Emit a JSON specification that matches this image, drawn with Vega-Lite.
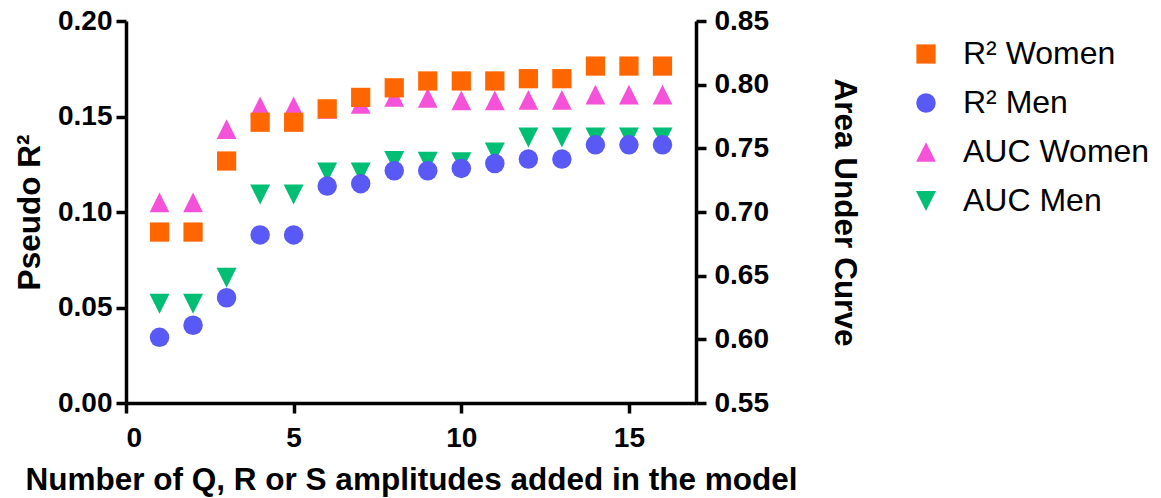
{
  "$schema": "https://vega.github.io/schema/vega-lite/v6.json",
  "width": 570,
  "height": 382,
  "autosize": "none",
  "padding": {"left": 126, "top": 21, "right": 465, "bottom": 95},
  "background": "white",
  "config": {
    "view": {"stroke": null},
    "font": "Liberation Sans",
    "axis": {
      "grid": false,
      "domainColor": "black",
      "domainWidth": 3.5,
      "tickColor": "black",
      "tickWidth": 3.5,
      "tickSize": 10,
      "labelFont": "Liberation Sans",
      "labelFontWeight": "bold",
      "labelFontSize": 28,
      "labelColor": "black",
      "titleFont": "Liberation Sans",
      "titleFontWeight": "bold",
      "titleFontSize": 31.5,
      "titleColor": "black"
    }
  },
  "datasets": {
    "r2": [
      {"x": 1, "series": "R² Women", "value": 0.0895},
      {"x": 2, "series": "R² Women", "value": 0.0895},
      {"x": 3, "series": "R² Women", "value": 0.1267},
      {"x": 4, "series": "R² Women", "value": 0.147},
      {"x": 5, "series": "R² Women", "value": 0.147},
      {"x": 6, "series": "R² Women", "value": 0.154},
      {"x": 7, "series": "R² Women", "value": 0.160},
      {"x": 8, "series": "R² Women", "value": 0.165},
      {"x": 9, "series": "R² Women", "value": 0.1686},
      {"x": 10, "series": "R² Women", "value": 0.1686},
      {"x": 11, "series": "R² Women", "value": 0.1686},
      {"x": 12, "series": "R² Women", "value": 0.1698},
      {"x": 13, "series": "R² Women", "value": 0.1698},
      {"x": 14, "series": "R² Women", "value": 0.1764},
      {"x": 15, "series": "R² Women", "value": 0.1764},
      {"x": 16, "series": "R² Women", "value": 0.1764},
      {"x": 1, "series": "R² Men", "value": 0.0344},
      {"x": 2, "series": "R² Men", "value": 0.0407},
      {"x": 3, "series": "R² Men", "value": 0.0551},
      {"x": 4, "series": "R² Men", "value": 0.088},
      {"x": 5, "series": "R² Men", "value": 0.088},
      {"x": 6, "series": "R² Men", "value": 0.1136},
      {"x": 7, "series": "R² Men", "value": 0.1148},
      {"x": 8, "series": "R² Men", "value": 0.1216},
      {"x": 9, "series": "R² Men", "value": 0.1216},
      {"x": 10, "series": "R² Men", "value": 0.1228},
      {"x": 11, "series": "R² Men", "value": 0.1254},
      {"x": 12, "series": "R² Men", "value": 0.1277},
      {"x": 13, "series": "R² Men", "value": 0.1277},
      {"x": 14, "series": "R² Men", "value": 0.1352},
      {"x": 15, "series": "R² Men", "value": 0.1352},
      {"x": 16, "series": "R² Men", "value": 0.1352}
    ],
    "auc": [
      {"x": 1, "series": "AUC Women", "value": 0.7075},
      {"x": 2, "series": "AUC Women", "value": 0.7075},
      {"x": 3, "series": "AUC Women", "value": 0.765},
      {"x": 4, "series": "AUC Women", "value": 0.783},
      {"x": 5, "series": "AUC Women", "value": 0.783},
      {"x": 6, "series": "AUC Women", "value": 0.781},
      {"x": 7, "series": "AUC Women", "value": 0.785},
      {"x": 8, "series": "AUC Women", "value": 0.7905},
      {"x": 9, "series": "AUC Women", "value": 0.7897},
      {"x": 10, "series": "AUC Women", "value": 0.7877},
      {"x": 11, "series": "AUC Women", "value": 0.7877},
      {"x": 12, "series": "AUC Women", "value": 0.788},
      {"x": 13, "series": "AUC Women", "value": 0.788},
      {"x": 14, "series": "AUC Women", "value": 0.7921},
      {"x": 15, "series": "AUC Women", "value": 0.7921},
      {"x": 16, "series": "AUC Women", "value": 0.7921},
      {"x": 1, "series": "AUC Men", "value": 0.6279},
      {"x": 2, "series": "AUC Men", "value": 0.6279},
      {"x": 3, "series": "AUC Men", "value": 0.6484},
      {"x": 4, "series": "AUC Men", "value": 0.7137},
      {"x": 5, "series": "AUC Men", "value": 0.7137},
      {"x": 6, "series": "AUC Men", "value": 0.731},
      {"x": 7, "series": "AUC Men", "value": 0.731},
      {"x": 8, "series": "AUC Men", "value": 0.740},
      {"x": 9, "series": "AUC Men", "value": 0.7394},
      {"x": 10, "series": "AUC Men", "value": 0.739},
      {"x": 11, "series": "AUC Men", "value": 0.7467},
      {"x": 12, "series": "AUC Men", "value": 0.7585},
      {"x": 13, "series": "AUC Men", "value": 0.7585},
      {"x": 14, "series": "AUC Men", "value": 0.7585},
      {"x": 15, "series": "AUC Men", "value": 0.7585},
      {"x": 16, "series": "AUC Men", "value": 0.7585}
    ]
  },
  "encoding": {
    "x": {
      "field": "x",
      "type": "quantitative",
      "scale": {"domain": [0, 17], "nice": false, "zero": false},
      "axis": {
        "values": [0, 5, 10, 15],
        "title": "Number of Q, R or S amplitudes added in the model",
        "labelPadding": 11,
        "titleX": 285,
        "titleY": 77,
        "titleBaseline": "middle",
        "titleAlign": "center"
      }
    },
    "color": {
      "field": "series",
      "type": "nominal",
      "scale": {
        "domain": ["R² Women", "R² Men", "AUC Women", "AUC Men"],
        "range": ["#FF6600", "#5959F5", "#F652D9", "#00BF74"]
      },
      "legend": {
        "title": null,
        "orient": "none",
        "legendX": 784,
        "legendY": 17,
        "padding": 0,
        "symbolSize": 420,
        "symbolStrokeWidth": 0,
        "symbolOpacity": 1,
        "labelFont": "Liberation Sans",
        "labelFontSize": 32,
        "labelColor": "black",
        "labelOffset": 21,
        "rowPadding": 17,
        "labelLimit": 400
      }
    },
    "shape": {
      "field": "series",
      "type": "nominal",
      "scale": {
        "domain": ["R² Women", "R² Men", "AUC Women", "AUC Men"],
        "range": ["square", "circle", "M0,-1L1,1L-1,1Z", "M0,1L1,-1L-1,-1Z"]
      }
    },
    "size": {
      "field": "series",
      "type": "nominal",
      "scale": {
        "domain": ["R² Women", "R² Men", "AUC Women", "AUC Men"],
        "range": [370, 400, 480, 480]
      },
      "legend": null
    }
  },
  "layer": [
    {
      "data": {"name": "auc"},
      "mark": {"type": "point", "filled": true, "opacity": 1, "strokeWidth": 0},
      "encoding": {
        "y": {
          "field": "value",
          "type": "quantitative",
          "scale": {"domain": [0.55, 0.85], "nice": false, "zero": false},
          "axis": {
            "orient": "right",
            "values": [0.55, 0.6, 0.65, 0.7, 0.75, 0.8, 0.85],
            "format": ".2f",
            "title": "Area Under Curve",
            "labelPadding": 8,
            "titleAngle": 90,
            "titleX": 147,
            "titleY": 191,
            "titleBaseline": "middle",
            "titleAlign": "center"
          }
        }
      }
    },
    {
      "data": {"name": "r2"},
      "mark": {"type": "point", "filled": true, "opacity": 1, "strokeWidth": 0},
      "encoding": {
        "y": {
          "field": "value",
          "type": "quantitative",
          "scale": {"domain": [0, 0.2], "nice": false, "zero": false},
          "axis": {
            "orient": "left",
            "values": [0, 0.05, 0.1, 0.15, 0.2],
            "format": ".2f",
            "title": "Pseudo R²",
            "labelPadding": 4,
            "titleAngle": 270,
            "titleX": -96,
            "titleY": 191,
            "titleBaseline": "middle",
            "titleAlign": "center"
          }
        }
      }
    }
  ],
  "resolve": {"scale": {"y": "independent"}}
}
